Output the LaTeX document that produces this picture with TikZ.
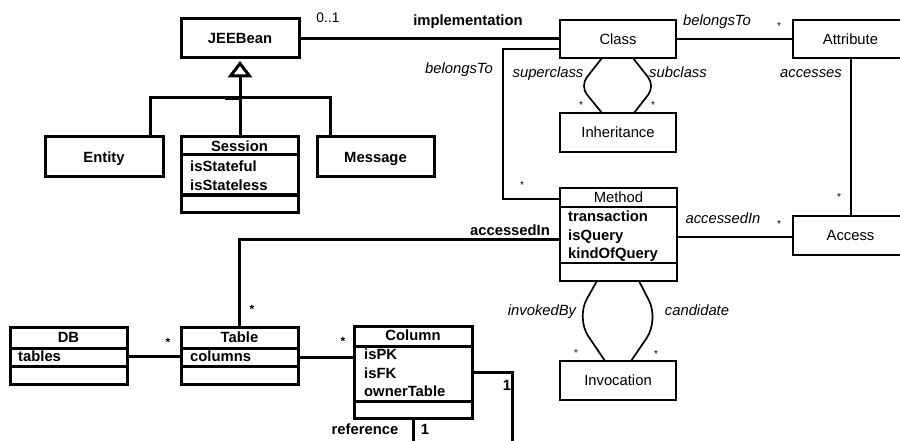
\documentclass[tikz,border=0pt]{standalone}
\usepackage{fontspec}
\setmainfont{Liberation Sans}
\newcommand\myfs{\fontsize{14.8}{17}\selectfont}
\newcommand\mysmallfs{\fontsize{10}{12}\selectfont}
\begin{document}
\begin{tikzpicture}[x=1pt,y=-1pt,
  thk/.style={line width=3pt},
  thn/.style={line width=1.5pt},
  crv/.style={line width=1.7pt, line join=round},
  bx/.style={draw, rectangle, inner sep=0pt, outer sep=0pt, text height=10.6pt, text depth=0pt, font=\myfs},
  tbx/.style={bx, thk, font=\myfs\bfseries},
  nbx/.style={bx, thn},
  txt/.style={inner sep=0pt, text height=10.6pt, text depth=0pt, font=\myfs},
  btxt/.style={txt, font=\myfs\bfseries},
  itxt/.style={txt, font=\myfs\itshape},
  attr/.style={btxt, anchor=west},
  sstar/.style={inner sep=0pt, anchor=north, font=\mysmallfs},
  bstar/.style={inner sep=0pt, anchor=north, font=\fontsize{12}{14}\selectfont\bfseries},
]
\useasboundingbox (0,0) rectangle (900,441);
\clip (0,0) rectangle (900,441);

% ---------- JEE part ----------
\node[tbx, minimum width=118pt, minimum height=39pt] (jee) at (240,38.5) {JEEBean};
\node[tbx, minimum width=118pt, minimum height=40pt] (entity) at (104,157) {Entity};
\node[tbx, minimum width=117pt, minimum height=40pt] (message) at (375.5,157) {Message};
\node[tbx, minimum width=117pt, minimum height=75pt] (session) at (239.5,174.5) {};
\draw[thk] (session.west |- 0,155) -- (session.east |- 0,155);
\draw[thk] (session.west |- 0,195) -- (session.east |- 0,195);
\node[btxt] (sessT) at (239.5,146.5) {Session};
\node[attr] (sessA1) at (190,166.5) {isStateful};
\node[attr] (sessA2) at (190,185) {isStateless};

\coordinate (triB) at (240,76);
\draw[thk] (entity.north -| 150,0) -- (150,98) -- (330,98) -- (message.north -| 330,0);
\draw[line width=4.5pt] (225,98) -- (240,98);
\draw[thk] (session.north -| triB) -- (triB);
\draw[thk, fill=white, line join=miter] (240,63.5) -- (249.5,76) -- (230.5,76) -- cycle;

% ---------- Class part ----------
\node[nbx, minimum width=116pt, minimum height=38pt] (class) at (618,39) {Class};
\node[nbx, minimum width=115pt, minimum height=38pt] (attribute) at (850.5,39) {Attribute};
\node[nbx, minimum width=116pt, minimum height=39pt] (inherit) at (618,132.5) {Inheritance};
\node[nbx, minimum width=115pt, minimum height=39pt] (access) at (850.5,235.5) {Access};
\node[nbx, minimum width=116pt, minimum height=39pt] (invoc) at (618,380.5) {Invocation};

\node[nbx, minimum width=117pt, minimum height=93pt] (method) at (618.5,234.5) {};
\draw[thn] (method.west |- 0,207) -- (method.east |- 0,207);
\draw[line width=2.5pt] (method.west |- 0,263) -- (method.east |- 0,263);
\node[txt] (methT) at (618.5,197) {Method};
\node[attr] (methA1) at (568,216.5) {transaction};
\node[attr] (methA2) at (568,235) {isQuery};
\node[attr] (methA3) at (568,253.5) {kindOfQuery};

% connectors
\draw[thk] (jee.east |- 0,39) -- (class.west);
\node[btxt] (implL) at (468,20) {implementation};
\node[txt, font=\fontsize{13.8}{16}\selectfont] (zeroone) at (328,17.5) {0..1};

\draw[thn] (class.east) -- (attribute.west);
\node[itxt] (belL1) at (717,20) {belongsTo};
\node[sstar] (st1) at (779,22.5) {*};

\draw[thn] (class.west |- 0,49) -- (503,49) -- (503,199) -- (method.west |- 0,199);
\node[itxt] (belL2) at (459,68) {belongsTo};
\node[sstar] (st2) at (522,181.5) {*};

\draw[crv, rounded corners=11pt] (class.south -| 602,0) -- (580,86) -- (inherit.north -| 602,0);
\draw[crv, rounded corners=11pt] (class.south -| 633,0) -- (655,86) -- (inherit.north -| 634,0);
\node[itxt] (supL) at (548,72) {superclass};
\node[itxt] (subL) at (678,72) {subclass};
\node[sstar] (st3) at (581,101) {*};
\node[sstar] (st4) at (653,101) {*};

\draw[thn] (attribute.south -| 851,0) -- (access.north -| 851,0);
\node[itxt] (accL) at (811,72) {accesses};
\node[sstar] (st5) at (839,193) {*};

\draw[thn] (method.east |- 0,237) -- (access.west |- 0,237);
\node[itxt] (accInL) at (723,218) {accessedIn};
\node[sstar] (st6) at (779,220) {*};

\draw[crv, rounded corners=22pt] (method.south -| 597,0) -- (576,318) -- (invoc.north -| 605,0);
\draw[crv, rounded corners=22pt] (method.south -| 639,0) -- (659,320) -- (invoc.north -| 631,0);
\node[itxt] (invL) at (542,310) {invokedBy};
\node[itxt] (candL) at (697,310) {candidate};
\node[sstar] (st7) at (576,349.5) {*};
\node[sstar] (st8) at (656,350.5) {*};

% ---------- DB part ----------
\node[tbx, minimum width=117pt, minimum height=57pt] (db) at (68.5,355.5) {};
\draw[thk] (db.west |- 0,348) -- (db.east |- 0,348);
\draw[thk] (db.west |- 0,366) -- (db.east |- 0,366);
\node[btxt] (dbT) at (68.5,337) {DB};
\node[attr] (dbA1) at (18,356.5) {tables};

\node[tbx, minimum width=117pt, minimum height=57pt] (table) at (239.5,355.5) {};
\draw[thk] (table.west |- 0,348) -- (table.east |- 0,348);
\draw[thk] (table.west |- 0,366) -- (table.east |- 0,366);
\node[btxt] (tabT) at (239.5,337) {Table};
\node[attr] (tabA1) at (190,356.5) {columns};

\node[tbx, minimum width=118pt, minimum height=92pt] (column) at (413,372) {};
\draw[thk] (column.west |- 0,346.5) -- (column.east |- 0,346.5);
\draw[thk] (column.west |- 0,401) -- (column.east |- 0,401);
\node[btxt] (colT) at (413,335.5) {Column};
\node[attr] (colA1) at (364,354.5) {isPK};
\node[attr] (colA2) at (364,373) {isFK};
\node[attr] (colA3) at (364,391.5) {ownerTable};

\draw[thk] (method.west |- 0,239) -| (table.north);
\node[btxt] (accInB) at (510,230) {accessedIn};
\node[bstar] (st9) at (252,305.5) {*};

\draw[thk] (db.east |- 0,356) -- (table.west |- 0,356);
\node[bstar] (st10) at (168,338.5) {*};
\draw[thk] (table.east |- 0,357) -- (column.west |- 0,357);
\node[bstar] (st11) at (343,337.5) {*};

\draw[thk] (column.east |- 0,372) -- (512,372) -- (512,470) -- (413,470) -- (column.south);
\node[btxt] (one1) at (507,385) {1};
\node[btxt] (one2) at (425,429) {1};
\node[btxt] (refL) at (365,429) {reference};
\end{tikzpicture}
\end{document}
